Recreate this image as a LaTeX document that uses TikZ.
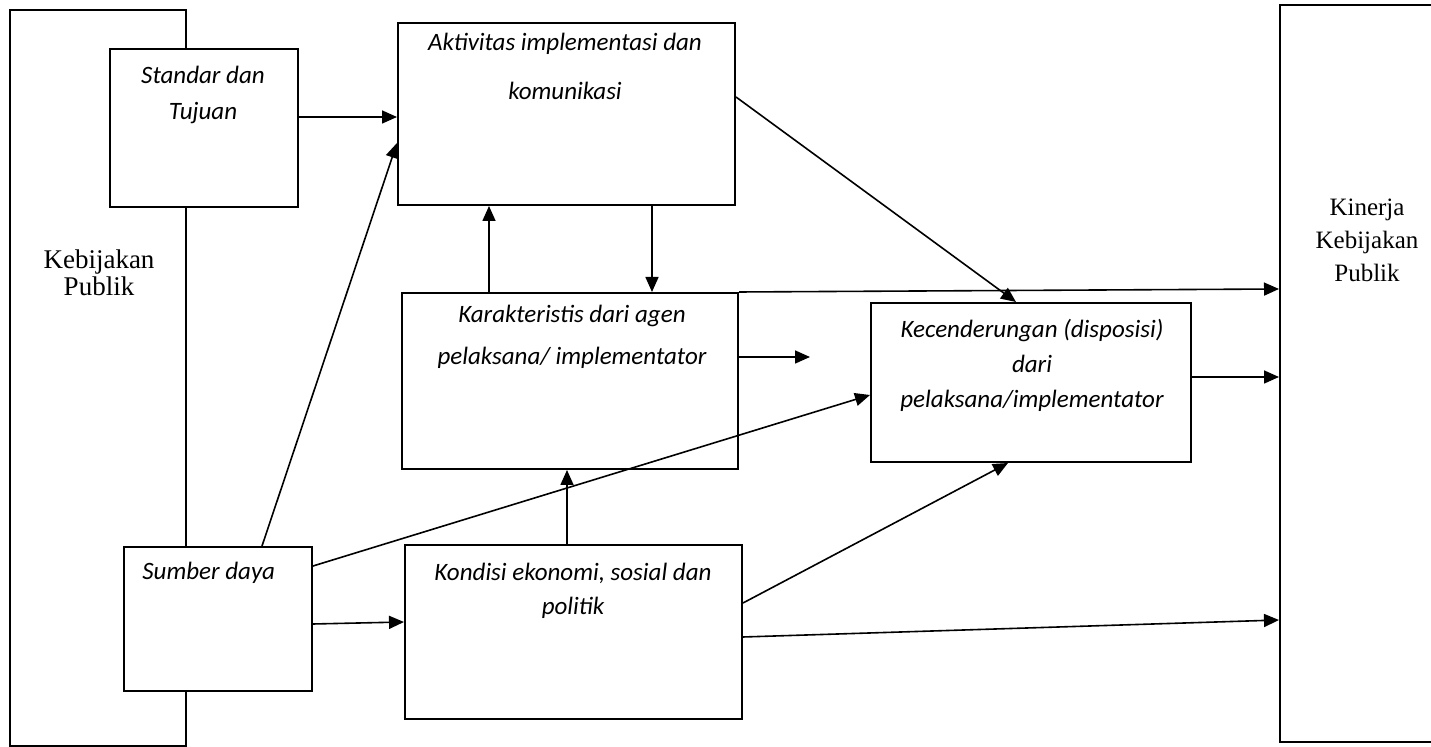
\documentclass[tikz,border=0pt]{standalone}
\usepackage{fontspec}
\setmainfont{Liberation Serif}
\newfontfamily\calib{Carlito}
\usetikzlibrary{arrows.meta}

\begin{document}
\begin{tikzpicture}[x=0.5pt, y=-0.5pt, >={Triangle[length=7.5pt,width=6.5pt]},
	box/.style={draw, line width=1pt, fill=white, inner sep=0pt},
	txt/.style={font=\calib\itshape\fontsize{12.5}{#1}\selectfont, align=center, inner sep=0pt},
	arr/.style={->, line width=0.8pt}]
	\useasboundingbox (0,0) rectangle (1431,747);

	% Outer blocks: policy in, performance out
	\node[box, minimum width=88pt, minimum height=368pt] (kebijakan) at (98,378) {};
	\node[font=\fontsize{13.5}{10}\selectfont, align=center, inner sep=0pt] (kebijakan-txt) at (99,273) {Kebijakan\\[0.5pt]Publik};
	\node[box, minimum width=90pt, minimum height=368.5pt] (kinerja) at (1370,373.5) {};
	\node[font=\fontsize{12.5}{16.5}\selectfont, align=center, inner sep=0pt] (kinerja-txt) at (1367,240) {Kinerja\\Kebijakan\\Publik};

	% Inner blocks
	\node[box, minimum width=94pt, minimum height=79pt] (standar) at (204,128) {};
	\node[txt=18pt] (standar-txt) at (203,95) {Standar dan\\Tujuan};
	\node[box, minimum width=168.5pt, minimum height=91pt] (aktivitas) at (566.5,114) {};
	\node[txt=24.5pt] (aktivitas-txt) at (565,66) {Aktivitas implementasi dan\\komunikasi};
	\node[box, minimum width=168pt, minimum height=88pt] (karakteristis) at (570,381) {};
	\node[txt=21pt] (karakteristis-txt) at (572,337) {Karakteristis dari agen\\pelaksana/ implementator};
	\node[box, minimum width=160pt, minimum height=79.5pt] (kecenderungan) at (1031,382.5) {};
	\node[txt=17.5pt] (kecenderungan-txt) at (1032,365) {Kecenderungan (disposisi)\\dari\\pelaksana/implementator};
	\node[box, minimum width=94pt, minimum height=72pt] (sumber) at (218,619) {};
	\node[txt=15pt, anchor=west] (sumber-txt) at (142,573) {Sumber daya};
	\node[box, minimum width=168.5pt, minimum height=87pt] (kondisi) at (573.5,632) {};
	\node[txt=17pt] (kondisi-txt) at (573,591) {Kondisi ekonomi, sosial dan\\politik};

	% free end of the short arrow
	\coordinate (stub) at (810,357);

	% Connectors
	\draw[arr] ([yshift=5.5pt]standar.east) -- ([yshift=-1.5pt]aktivitas.west);
	\draw[arr] ([xshift=22pt]sumber.north) -- ([yshift=-14.5pt]aktivitas.west);
	\draw[arr] ([xshift=-40.5pt]karakteristis.north) -- ([xshift=-38.75pt]aktivitas.south);
	\draw[arr] ([xshift=42.75pt]aktivitas.south) -- ([xshift=41pt]karakteristis.north);
	\draw[arr] ([yshift=8.5pt]aktivitas.east) -- ([xshift=-7.5pt]kecenderungan.north);
	\draw[arr] (karakteristis.north east) -- ([yshift=42.25pt]kinerja.west);
	\draw[arr] ([yshift=12pt]karakteristis.east) -- (stub);
	\draw[arr] ([yshift=26.5pt]sumber.east) -- ([yshift=-6.25pt]kecenderungan.west);
	\draw[arr] ([yshift=-2.5pt]sumber.east) -- ([yshift=5pt]kondisi.west);
	\draw[arr] ([xshift=-3.25pt]kondisi.north) -- ([xshift=-1.5pt]karakteristis.south);
	\draw[arr] ([yshift=14.5pt]kondisi.east) -- ([xshift=-11.5pt]kecenderungan.south);
	\draw[arr] ([yshift=-2.5pt]kondisi.east) -- ([yshift=-123.25pt]kinerja.west);
	\draw[arr] ([yshift=2.75pt]kecenderungan.east) -- ([yshift=-1.75pt]kinerja.west);
\end{tikzpicture}
\end{document}
